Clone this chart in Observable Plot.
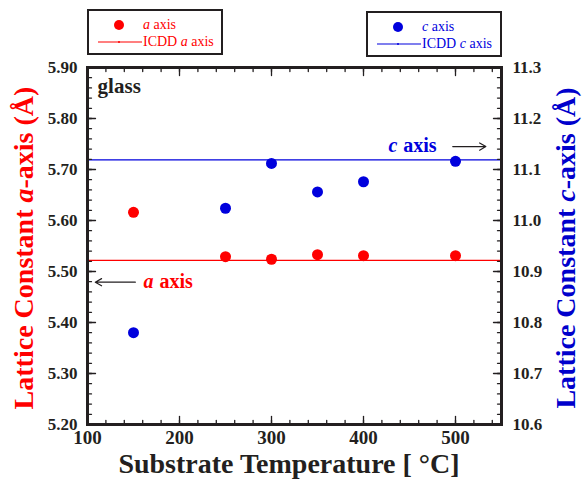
<!DOCTYPE html>
<html><head><meta charset="utf-8">
<script src="https://cdn.jsdelivr.net/npm/d3@7"></script>
<script src="https://cdn.jsdelivr.net/npm/@observablehq/plot@0.6"></script>
<style>
body{margin:0;background:#fff;}
#wrap{position:relative;width:582px;height:481px;font-family:"Liberation Serif","Times New Roman",serif;}
#wrap svg text{font-family:"Liberation Serif","Times New Roman",serif !important;}
.lg{position:absolute;border:2px solid #231f20;box-sizing:border-box;width:136px;height:46px;font-size:14px;background:#fff;}
.lg .row{position:absolute;left:54px;white-space:nowrap;line-height:14px;}
.lg svg{position:absolute;left:0;top:0;}
.ttl{position:absolute;font-weight:bold;font-size:28px;white-space:nowrap;transform:translate(-50%,-50%);}
</style></head>
<body><div id="wrap"></div>
<script>
// ---- data ----
const temperatures = [150, 250, 300, 350, 400, 500];
const aValues = [5.616, 5.529, 5.524, 5.533, 5.531, 5.531];
const cValues = [10.780, 11.024, 11.112, 11.056, 11.076, 11.116];
const icddA = 5.522;
const icddC = 11.119;
const aDomain = [5.2, 5.9];
const cDomain = [10.6, 11.3];
const xDomain = [100, 550];
const xTicks = [100, 200, 300, 400, 500];
const aTicks = [5.2, 5.3, 5.4, 5.5, 5.6, 5.7, 5.8, 5.9];
const cTicks = [10.6, 10.7, 10.8, 10.9, 11.0, 11.1, 11.2, 11.3];
const xMinor = d3.range(100, 551, 20);
const aMinor = d3.range(5.2, 5.901, 0.02);

const red = "#ff0000", blue = "#0000dd", ink = "#231f20";
const cOffset = cDomain[0] - aDomain[0]; // map c onto a-scale
const toA = c => c - cOffset;

const aRows = temperatures.map((t, i) => ({t, v: aValues[i]}));
const cRows = temperatures.map((t, i) => ({t, v: toA(cValues[i])}));

const tickShape = {draw(ctx, l) { ctx.moveTo(0, 0); ctx.lineTo(0, -l); }};
const tk = (data, chan, frameAnchor, rotate, length) =>
  Plot.vector(data, {[chan]: d => d, frameAnchor, rotate, length, anchor: "start",
    shape: tickShape, stroke: ink, strokeWidth: 1.3});

const chart = Plot.plot({
  width: 582, height: 481,
  marginLeft: 87, marginRight: 81, marginTop: 67, marginBottom: 57,
  x: {domain: xDomain},
  y: {domain: aDomain},
  style: {fontFamily: "Liberation Serif, serif", fontSize: "17px", fontWeight: "bold", color: ink, background: "transparent"},
  marks: [
    Plot.ruleY([icddA], {stroke: red, strokeWidth: 1.2}),
    Plot.ruleY([toA(icddC)], {stroke: blue, strokeWidth: 1.2}),
    Plot.dot(aRows, {x: "t", y: "v", r: 5.5, fill: red}),
    Plot.dot(cRows, {x: "t", y: "v", r: 5.5, fill: blue}),
    // ticks, inward
    tk(aTicks, "y", "left", 90, 8), tk(aMinor, "y", "left", 90, 4),
    tk(aTicks, "y", "right", -90, 8), tk(aMinor, "y", "right", -90, 4),
    tk(xTicks, "x", "bottom", 0, 8), tk(xMinor, "x", "bottom", 0, 4),
    tk(xTicks, "x", "top", 180, 8), tk(xMinor, "x", "top", 180, 4),
    Plot.axisY({anchor: "left", ticks: aTicks, tickSize: 0, tickPadding: 10, tickFormat: d => d.toFixed(2), label: null}),
    Plot.axisY({anchor: "right", ticks: aTicks, tickSize: 0, tickPadding: 11, tickFormat: (d, i) => cTicks[i].toFixed(1), label: null}),
    Plot.axisX({ticks: xTicks, tickSize: 0, tickPadding: 6, fontSize: 19, label: null}),
    Plot.frame({stroke: ink, strokeWidth: 3}),
    // annotations
    Plot.text(["glass"], {x: 111, y: 5.863, text: d => d, textAnchor: "start", fontSize: 21, fill: ink}),
    Plot.text(["c"], {x: 440, y: 5.747, text: d => d, textAnchor: "end", dx: -3, fontSize: 20, fontStyle: "italic", fill: blue}),
    Plot.text(["axis"], {x: 440, y: 5.747, text: d => d, textAnchor: "start", dx: 3, fontSize: 20, fill: blue}),
    Plot.arrow([0], {x1: 497, x2: 533, y1: 5.745, y2: 5.745, stroke: ink, strokeWidth: 1.2, headLength: 9}),
    Plot.text(["a"], {x: 175, y: 5.48, text: d => d, textAnchor: "end", dx: -3, fontSize: 20, fontStyle: "italic", fill: red}),
    Plot.text(["axis"], {x: 175, y: 5.48, text: d => d, textAnchor: "start", dx: 3, fontSize: 20, fill: red}),
    Plot.arrow([0], {x1: 152, x2: 108.5, y1: 5.479, y2: 5.479, stroke: ink, strokeWidth: 1.2, headLength: 9})
  ]
});
const wrap = document.getElementById("wrap");
wrap.appendChild(chart);
chart.style.position = "absolute"; chart.style.left = "0"; chart.style.top = "0";

function legend(left, top, color, name) {
  const d = document.createElement("div");
  d.className = "lg";
  d.style.left = left + "px"; d.style.top = top + "px"; d.style.color = color;
  d.innerHTML = `<svg width="136" height="46"><circle cx="30" cy="14" r="5" fill="${color}"/>
    <line x1="9" x2="53" y1="31" y2="31" stroke="${color}" stroke-width="1.2"/>
    <circle cx="30" cy="31" r="1" fill="${color}"/></svg>
    <div class="row" style="top:7px"><i>${name}</i> axis</div>
    <div class="row" style="top:24px">ICDD <i>${name}</i> axis</div>`;
  wrap.appendChild(d);
}
legend(87, 9, red, "a");
legend(366, 11, blue, "c");

function title(html, x, y, color, rot) {
  const d = document.createElement("div");
  d.className = "ttl";
  d.style.left = x + "px"; d.style.top = y + "px"; d.style.color = color;
  if (rot) d.style.transform = "translate(-50%,-50%) rotate(-90deg)";
  d.innerHTML = html;
  wrap.appendChild(d);
}
title("Lattice Constant <i>a</i>-axis (Å)", 24, 248, red, true);
title("Lattice Constant <i>c</i>-axis (Å)", 566, 248, "#0000cc", true);
title("Substrate Temperature [ °C]", 289, 464, ink, false);
</script></body></html>
